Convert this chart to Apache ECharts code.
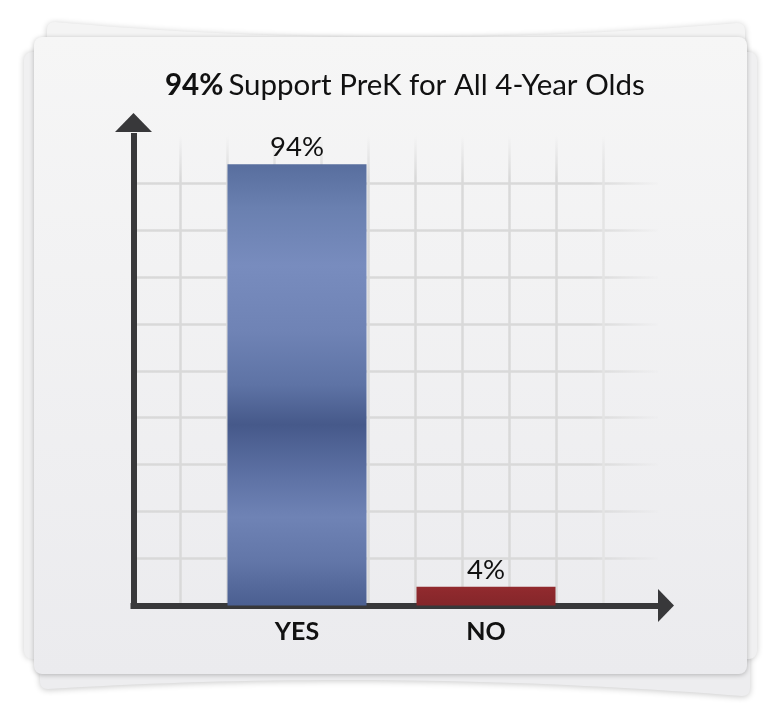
<!DOCTYPE html>
<html>
<head>
<meta charset="utf-8">
<script src="https://cdn.jsdelivr.net/npm/echarts@6/dist/echarts.min.js"></script>
<style>
html,body{margin:0;padding:0;background:#ffffff;}
#chart{width:779px;height:717px;}
</style>
</head>
<body>
<div id="chart"></div>
<script>
// ---- data ----
const categories = ['YES', 'NO'];
const values = [94, 4];
const valueSuffix = '%';
const titleLead = '94%';
const titleRest = 'Support PreK for All 4-Year Olds';

// ---- styles ----
const FONT = 'Lato, "Open Sans", sans-serif';
const GRID_COLOR = '#d9d9d9';
const hLineColor = new echarts.graphic.LinearGradient(590, 0, 662, 0,
  [{offset: 0, color: GRID_COLOR}, {offset: 1, color: 'rgba(217,217,217,0)'}], true);
function vGrad(c) {
  return new echarts.graphic.LinearGradient(0, 136, 0, 178,
    [{offset: 0, color: 'rgba(217,217,217,0)'}, {offset: 1, color: c}], true);
}
const vColors = [];
for (let i = 0; i < 9; i++) vColors.push(vGrad(GRID_COLOR));
vColors.push(vGrad('#e4e4e4'));
vColors.push('rgba(0,0,0,0)');

const yesColor = new echarts.graphic.LinearGradient(0, 0, 0, 1, [
  {offset: 0, color: '#586e9e'},
  {offset: 0.1, color: '#6a80b0'},
  {offset: 0.23, color: '#788cbe'},
  {offset: 0.38, color: '#6f83b5'},
  {offset: 0.5, color: '#5e73a5'},
  {offset: 0.59, color: '#46598a'},
  {offset: 0.7, color: '#5c70a3'},
  {offset: 0.8, color: '#6f83b5'},
  {offset: 0.9, color: '#6276a8'},
  {offset: 1, color: '#4b5f91'}
]);
const noColor = new echarts.graphic.LinearGradient(0, 0, 0, 1,
  [{offset: 0, color: '#922a2e'}, {offset: 1, color: '#84262a'}]);
const barColors = [yesColor, noColor];

// decorative paper outlines (quadratic curves sampled into polygons)
function quad(p0, c, p1, n) {
  const pts = [];
  for (let i = 0; i <= n; i++) {
    const t = i / n, u = 1 - t;
    pts.push([u * u * p0[0] + 2 * u * t * c[0] + t * t * p1[0],
              u * u * p0[1] + 2 * u * t * c[1] + t * t * p1[1]]);
  }
  return pts;
}
const paperTop = [].concat(
  quad([47, 30], [47, 22], [55, 22], 6),
  quad([55, 22], [390, 52], [737, 23], 40),
  quad([737, 23], [745, 23], [745, 31], 6),
  [[745, 400], [47, 400]]
);
const paperBottom = [].concat(
  [[40, 400], [750, 400]],
  quad([750, 688], [750, 696], [742, 696], 6),
  quad([742, 696], [390, 668], [48, 689], 40),
  quad([48, 689], [40, 689], [40, 681], 6)
);

const chart = echarts.init(document.getElementById('chart'), null, {renderer: 'canvas'});

const option = {
  backgroundColor: '#ffffff',
  animation: false,
  graphic: {
    elements: [
      { type: 'polygon', z: -30, silent: true,
        shape: { points: paperTop },
        style: { fill: '#f4f4f4', shadowBlur: 6, shadowColor: 'rgba(0,0,0,0.22)', shadowOffsetY: 1 } },
      { type: 'polygon', z: -30, silent: true,
        shape: { points: paperBottom },
        style: { fill: '#ededef', shadowBlur: 6, shadowColor: 'rgba(0,0,0,0.22)', shadowOffsetY: 1 } },
      { type: 'rect', z: -29, silent: true,
        shape: { x: 24, y: 52, width: 733, height: 607, r: 8 },
        style: { fill: '#f0f0f1', shadowBlur: 6, shadowColor: 'rgba(0,0,0,0.2)' } },
      { type: 'rect', z: -28, silent: true,
        shape: { x: 34, y: 37, width: 713, height: 637, r: 8 },
        style: {
          fill: new echarts.graphic.LinearGradient(0, 0, 0, 1,
            [{offset: 0, color: '#f6f6f6'}, {offset: 1, color: '#ebebee'}]),
          shadowBlur: 5, shadowColor: 'rgba(0,0,0,0.25)', shadowOffsetY: 1 } }
    ]
  },
  title: {
    text: '{b|' + titleLead + '} {r|' + titleRest + '}',
    left: 160,
    top: 65,
    textStyle: {
      rich: {
        b: { fontFamily: FONT, fontSize: 29.5, fontWeight: 'bold', color: '#111111' },
        r: { fontFamily: FONT, fontSize: 29.5, fontWeight: 'normal', color: '#111111' }
      }
    }
  },
  grid: [
    { left: 133.5, top: 136, width: 524.5, bottom: 111.5 },
    { left: 202.5, top: 136, width: 378, bottom: 111.5 }
  ],
  xAxis: [
    {
      gridIndex: 0, type: 'value', min: 0, max: 524.5 / 47, interval: 1,
      axisLabel: { show: false }, axisTick: { show: false },
      axisLine: {
        show: true, symbol: ['none', 'triangle'], symbolSize: [33, 16], symbolOffset: [0, 8],
        lineStyle: { color: '#38383a', width: 6, cap: 'square' }
      },
      splitLine: { show: true, showMinLine: false, showMaxLine: false,
        lineStyle: { color: vColors, width: 2.5 } }
    },
    {
      gridIndex: 1, type: 'category', data: categories,
      axisLine: { show: false }, axisTick: { show: false }, splitLine: { show: false },
      axisLabel: { margin: 14, fontFamily: FONT, fontSize: 25, fontWeight: 'bold', color: '#111111' }
    }
  ],
  yAxis: [
    {
      gridIndex: 0, type: 'value', min: 0, max: 100, interval: 10,
      axisLabel: { show: false }, axisTick: { show: false },
      axisLine: {
        show: true, symbol: ['none', 'triangle'], symbolSize: [37, 19], symbolOffset: [0, 13.5],
        lineStyle: { color: '#38383a', width: 6, cap: 'square' }
      },
      splitLine: { show: true, showMinLine: false, showMaxLine: false,
        lineStyle: { color: hLineColor, width: 2.5 } }
    },
    { gridIndex: 1, type: 'value', min: 0, max: 100, show: false }
  ],
  series: [
    {
      type: 'bar', xAxisIndex: 1, yAxisIndex: 1, barWidth: 139,
      data: values.map((v, i) => ({ value: v, itemStyle: { color: barColors[i] } })),
      label: {
        show: true, position: 'top', distance: 3,
        formatter: p => p.value + valueSuffix,
        fontFamily: FONT, fontSize: 27.5, color: '#111111'
      }
    }
  ]
};
chart.setOption(option);
</script>
</body>
</html>
